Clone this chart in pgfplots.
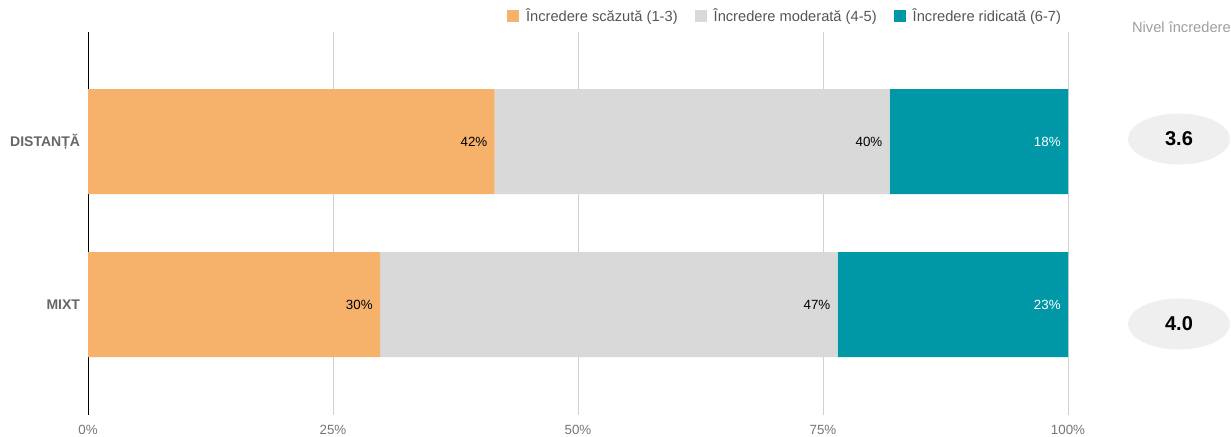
\documentclass[border=0pt]{standalone}
\usepackage{fontspec}
\setmainfont{Liberation Sans}
\usepackage{pgfplots}
\pgfplotsset{compat=1.18}
\definecolor{corange}{HTML}{F6B26B}
\definecolor{cgray}{HTML}{D9D9D9}
\definecolor{cteal}{HTML}{0097A7}
\definecolor{ctick}{HTML}{757575}
\definecolor{ccat}{HTML}{666666}
\definecolor{cgrid}{HTML}{D0D0D0}
\definecolor{cleg}{HTML}{555555}
\definecolor{cell}{HTML}{EFEFEF}
\begin{document}
\begin{tikzpicture}
\useasboundingbox (0pt,0pt) rectangle (923.25pt,327pt);
\begin{axis}[
  at={(66pt,15.75pt)}, anchor=south west,
  scale only axis, width=735pt, height=287.25pt,
  xbar stacked, bar width=78.75pt,
  xmin=0, xmax=100, ymin=-0.672, ymax=1.678, y dir=reverse,
  ytick={0,1}, yticklabels={DISTANȚĂ,MIXT},
  yticklabel style={font=\bfseries\fontsize{10.5}{12}\selectfont, text=ccat, xshift=-2.5pt},
  xtick={0,25,50,75,100}, xticklabels={0\%,25\%,50\%,75\%,100\%},
  xticklabel style={font=\fontsize{10}{12}\selectfont, text=ctick, yshift=-4pt},
  major tick length=0pt,
  xmajorgrids, grid style={draw=cgrid, line width=0.75pt},
  axis line style={draw=none},
  clip=false,
  point meta=explicit symbolic,
  visualization depends on={rawx \as \rawx},
  nodes near coords,
  every node near coord/.append style={anchor=east, xshift={\rawx*3.675pt-2pt}, font=\fontsize{10}{12}\selectfont, text=black},
  legend columns=3,
  legend image code/.code={\fill[#1] (0pt,-4.5pt) rectangle (9pt,4.5pt);},
  legend style={draw=none, fill=none, at={(1,1)}, anchor=south east, yshift=2pt,
    font=\fontsize{11}{13}\selectfont, text=cleg,
    /tikz/every even column/.append style={column sep=11pt},
    /tikz/every odd column/.append style={column sep=3pt}},
]
\addplot[fill=corange, draw=none] coordinates {(41.5,0) [42\%] (29.8,1) [30\%]};
\addlegendentry{Încredere scăzută (1-3)}
\addplot[fill=cgray, draw=none] coordinates {(40.3,0) [40\%] (46.7,1) [47\%]};
\addlegendentry{Încredere moderată (4-5)}
\addplot[fill=cteal, draw=none, every node near coord/.append style={text=white}] coordinates {(18.2,0) [18\%] (23.5,1) [23\%]};
\addlegendentry{Încredere ridicată (6-7)}
\draw[black, line width=0.75pt] (axis cs:0,-0.672) -- (axis cs:0,1.678);
\end{axis}
\node[anchor=east, text=ctick!70, font=\fontsize{11}{13}\selectfont, inner sep=0pt] at (923.25pt,306.75pt) {Nivel încredere};
\fill[cell] (884.25pt,222.75pt) ellipse [x radius=38.25pt, y radius=19.125pt];
\node[font=\bfseries\fontsize{15}{18}\selectfont] at (884.25pt,222.75pt) {3.6};
\fill[cell] (884.25pt,84pt) ellipse [x radius=38.25pt, y radius=19.125pt];
\node[font=\bfseries\fontsize{15}{18}\selectfont] at (884.25pt,84pt) {4.0};
\end{tikzpicture}
\end{document}
